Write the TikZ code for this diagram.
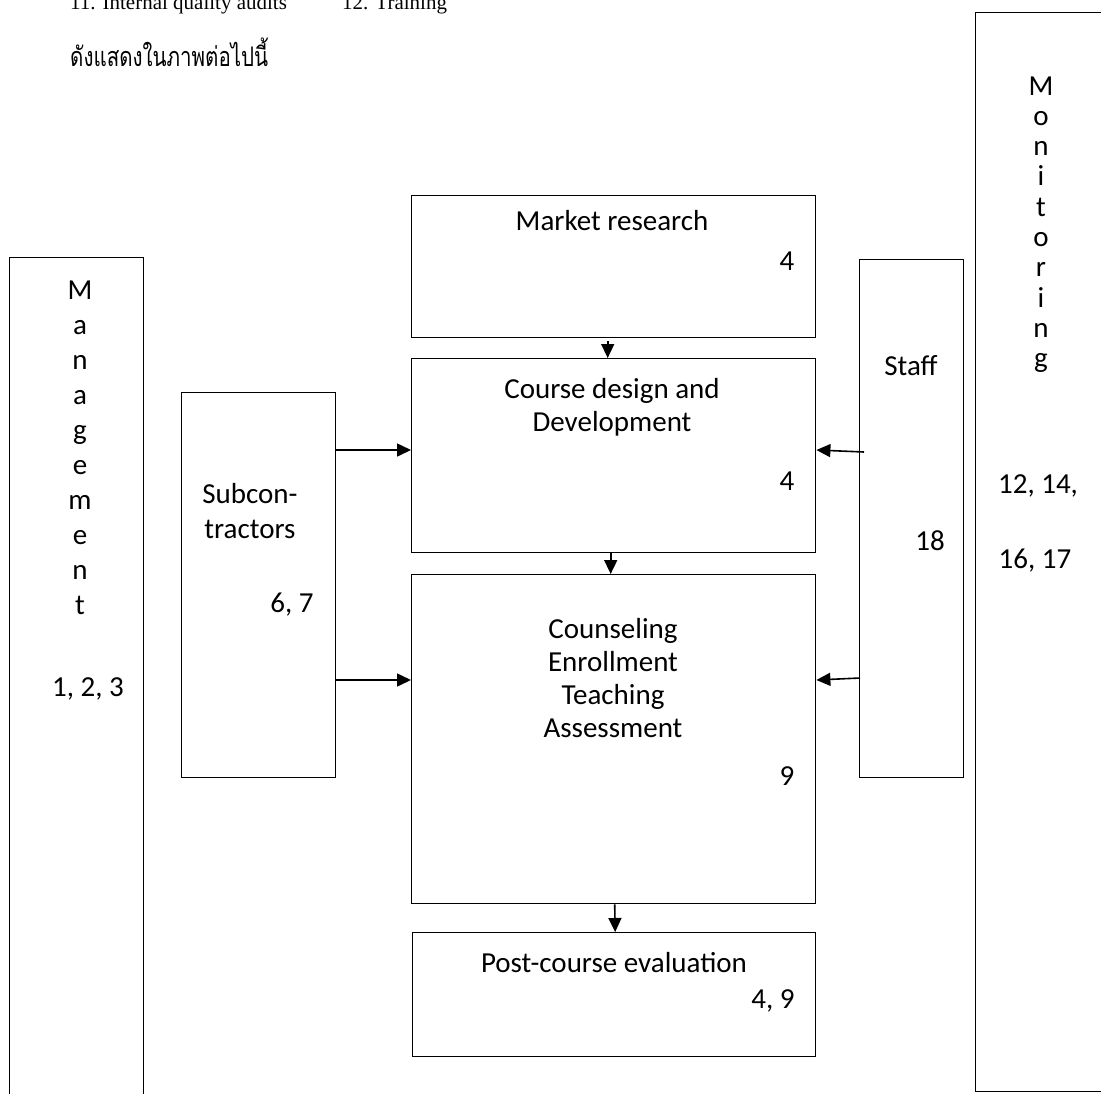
\documentclass[tikz,border=0pt]{standalone}
\usepackage{graphicx}
\usepackage{fontspec}
\setmainfont{Carlito}
\newfontfamily\thaifont[Script=Thai]{Loma}
\newfontfamily\seriffont{Liberation Serif}
\usetikzlibrary{arrows.meta}

\tikzset{
  box/.style={draw, line width=1.4pt, inner sep=0pt, anchor=north west},
  txt/.style={font=\fontsize{29}{34}\selectfont, inner sep=0pt, anchor=base},
  arr/.style={-{Triangle[length=14pt,width=13pt]}, line width=1.6pt},
}

\begin{document}
\begin{tikzpicture}[x=1pt,y=-1pt]
\useasboundingbox (0,0) rectangle (1101,1093);
\clip (0,0) rectangle (1101,1093);

% lines of the page above the figure
\node[inner sep=0pt, anchor=base west, font=\seriffont\fontsize{21}{25}\selectfont] (item11) at (70,9) {11. Internal quality audits};
\node[inner sep=0pt, anchor=base west, font=\seriffont\fontsize{21}{25}\selectfont] (item12) at (342,9) {12. Training};
\node[inner sep=0pt, anchor=base west, font=\thaifont\fontsize{27}{32}\selectfont] (intro) at (70,66) {\scalebox{0.76}[1]{ดังแสดงในภาพต่อไปนี้}};

% side columns
\node[box, minimum width=134pt, minimum height=880pt] (mgmt) at (9,257) {};
\node[box, minimum width=160pt, minimum height=1079pt] (monit) at (975,12) {};
\node[box, minimum width=154pt, minimum height=385pt] (subcon) at (181,392) {};
\node[box, minimum width=104pt, minimum height=518pt] (staff) at (859,259) {};

% process boxes
\node[box, minimum width=404pt, minimum height=142pt] (market) at (411,195) {};
\node[box, minimum width=404pt, minimum height=194pt] (design) at (411,358) {};
\node[box, minimum width=404pt, minimum height=329pt] (counsel) at (411,574) {};
\node[box, minimum width=403pt, minimum height=124pt] (post) at (412,932) {};

% texts
\foreach \ch [count=\i from 0] in {M,a,n,a,g,e,m,e,n,t}
  \node[txt] (mgl\i) at (80,{299+35*\i}) {\ch};
\node[txt] (mgnum) at (88,696) {1, 2, 3};

\foreach \ch [count=\i from 0] in {M,o,n,i,t,o,r,i,n,g}
  \node[txt] (mol\i) at (1041,{95+30.3*\i}) {\ch};
\node[txt] (monum1) at (1038,493) {12, 14,};
\node[txt] (monum2) at (1035,568) {16, 17};

\node[txt] (sub1) at (250,503) {Subcon-};
\node[txt] (sub2) at (250,538) {tractors};
\node[txt] (subnum) at (292,612) {6, 7};

\node[txt] (stafft) at (911,375) {Staff};
\node[txt] (staffnum) at (930,550) {18};

\node[txt] (mkt) at (612,230) {Market research};
\node[txt] (mktnum) at (787,270) {4};

\node[txt] (des1) at (612,398) {Course design and};
\node[txt] (des2) at (612,431) {Development};
\node[txt] (desnum) at (787,490) {4};

\node[txt] (cou1) at (613,638) {Counseling};
\node[txt] (cou2) at (613,671) {Enrollment};
\node[txt] (cou3) at (613,704) {Teaching};
\node[txt] (cou4) at (613,737) {Assessment};
\node[txt] (counum) at (787,785) {9};

\node[txt] (pst) at (614,972) {Post-course evaluation};
\node[txt] (pstnum) at (773,1008) {4, 9};

% connectors
\coordinate (row1) at (0,450);
\coordinate (row2) at (0,680);
\coordinate (srow1) at (0,452);
\coordinate (srow2) at (0,678);
\draw[arr] ([xshift=-6pt,yshift=-3pt]market.south) -- ([xshift=-6pt]design.north);
\draw[arr] ([xshift=-3pt]design.south) -- ([xshift=-3pt]counsel.north);
\draw[arr] ([xshift=1pt]counsel.south) -- ([xshift=1pt]post.north);
\draw[arr] (subcon.east |- row1) -- (design.west |- row1);
\draw[arr] (subcon.east |- row2) -- (counsel.west |- row2);
\draw[arr] ([xshift=5pt]staff.west |- srow1) -- (design.east |- row1);
\draw[arr] ([xshift=1pt]staff.west |- srow2) -- (counsel.east |- row2);
\end{tikzpicture}
\end{document}
